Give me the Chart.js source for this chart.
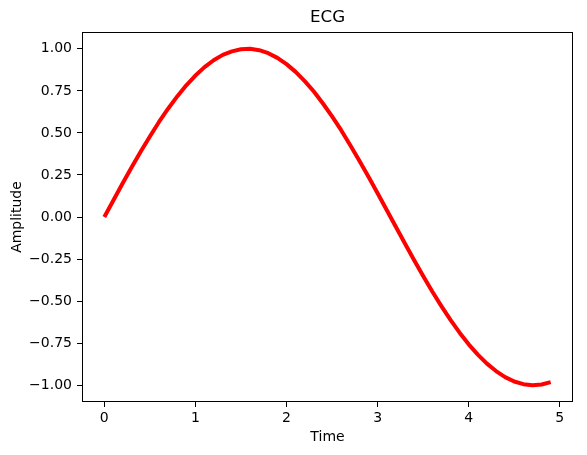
<!DOCTYPE html>
<html>
<head>
<meta charset="utf-8">
<script src="https://cdn.jsdelivr.net/npm/chart.js"></script>
<style>
  html, body { margin: 0; padding: 0; background: #fff; }
</style>
</head>
<body>
<canvas id="ecgChart" width="587" height="455"></canvas>

<script>
    // Values
    const TIME = [0.0, 0.1, 0.2, 0.3, 0.4, 0.5, 0.6, 0.7, 0.8, 0.9,
                  1.0, 1.1, 1.2, 1.3, 1.4, 1.5, 1.6, 1.7, 1.8, 1.9,
                  2.0, 2.1, 2.2, 2.3, 2.4, 2.5, 2.6, 2.7, 2.8, 2.9,
                  3.0, 3.1, 3.2, 3.3, 3.4, 3.5, 3.6, 3.7, 3.8, 3.9,
                  4.0, 4.1, 4.2, 4.3, 4.4, 4.5, 4.6, 4.7, 4.8, 4.9];
    const AMPLITUDE = [0.000, 0.100, 0.199, 0.296, 0.389, 0.479, 0.565, 0.644, 0.717, 0.783,
                       0.841, 0.891, 0.932, 0.964, 0.985, 0.997, 1.000, 0.992, 0.974, 0.946,
                       0.909, 0.863, 0.808, 0.746, 0.675, 0.598, 0.516, 0.427, 0.335, 0.239,
                       0.141, 0.042, -0.058, -0.158, -0.256, -0.351, -0.443, -0.530, -0.612, -0.688,
                       -0.757, -0.818, -0.872, -0.916, -0.952, -0.978, -0.994, -1.000, -0.996, -0.982];
    const X_TICKS = [0, 1, 2, 3, 4, 5];
    const Y_TICKS = [-1.00, -0.75, -0.50, -0.25, 0.00, 0.25, 0.50, 0.75, 1.00];

    Chart.defaults.font.family = '"DejaVu Sans", sans-serif';
    Chart.defaults.font.size = 14;
    Chart.defaults.color = '#000';

    // title over the plot area plus the box round it
    const frame = {
        id: 'frame',
        afterDraw(chart) {
            const { ctx, chartArea: a } = chart;
            ctx.save();
            ctx.strokeStyle = '#000';
            ctx.lineWidth = 1;
            ctx.strokeRect(Math.round(a.left) + 0.5, Math.round(a.top) + 0.5,
                           Math.round(a.right - a.left) - 1, Math.round(a.bottom - a.top) - 1);
            ctx.font = '16.7px "DejaVu Sans", sans-serif';
            ctx.fillStyle = '#000';
            ctx.textAlign = 'center';
            ctx.textBaseline = 'middle';
            ctx.fillText('ECG', (a.left + a.right) / 2, 18);
            ctx.restore();
        }
    };

    const ctx = document.getElementById('ecgChart').getContext('2d');
    new Chart(ctx, {
        type: 'line',
        data: {
            datasets: [{
                label: 'ECG',
                data: TIME.map((t, i) => ({ x: t, y: AMPLITUDE[i] })),
                borderColor: '#ff0000',
                borderWidth: 4,
                borderJoinStyle: 'round',
                pointRadius: 0,
                tension: 0,
                fill: false
            }]
        },
        options: {
            responsive: false,
            animation: false,
            devicePixelRatio: 1,
            layout: { padding: { top: 32, right: 14, left: 0, bottom: 0 } },
            plugins: {
                legend: { display: false },
                tooltip: { enabled: false },
                title: { display: false }
            },
            scales: {
                x: {
                    type: 'linear',
                    min: -0.245,
                    max: 5.145,
                    afterBuildTicks: s => { s.ticks = X_TICKS.map(v => ({ value: v })); },
                    afterFit: s => { s.height = 53; },
                    ticks: { padding: 3, callback: v => String(v) },
                    grid: { drawOnChartArea: false, tickLength: 5, color: '#000' },
                    border: { display: false },
                    title: { display: true, text: 'Time', padding: { top: 0, bottom: 9.6 } }
                },
                y: {
                    type: 'linear',
                    min: -1.1,
                    max: 1.1,
                    afterBuildTicks: s => { s.ticks = Y_TICKS.map(v => ({ value: v })); },
                    afterFit: s => { s.width = 82; },
                    ticks: {
                        padding: 5,
                        callback: v => v.toFixed(2).replace('-', '\u2212')
                    },
                    grid: { drawOnChartArea: false, tickLength: 5, color: '#000' },
                    border: { display: false },
                    title: { display: true, text: 'Amplitude', padding: { top: 8.6, bottom: 0 } }
                }
            }
        },
        plugins: [frame]
    });
</script>
</body>
</html>
